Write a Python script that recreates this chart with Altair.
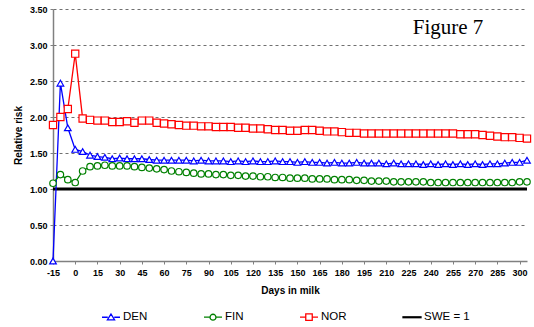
import altair as alt
import pandas as pd

days = [-15, -10, -5, 0, 5, 10, 15, 20, 25, 30,
        35, 40, 45, 50, 55, 60, 65, 70, 75, 80,
        85, 90, 95, 100, 105, 110, 115, 120, 125, 130,
        135, 140, 145, 150, 155, 160, 165, 170, 175, 180,
        185, 190, 195, 200, 205, 210, 215, 220, 225, 230,
        235, 240, 245, 250, 255, 260, 265, 270, 275, 280,
        285, 290, 295, 300, 305]

den = [0.00, 2.47, 1.85, 1.55, 1.52, 1.47, 1.45, 1.44, 1.42, 1.43,
       1.42, 1.42, 1.42, 1.41, 1.40, 1.40, 1.40, 1.40, 1.40, 1.39,
       1.40, 1.39, 1.39, 1.39, 1.38, 1.39, 1.38, 1.39, 1.38, 1.38,
       1.39, 1.38, 1.38, 1.37, 1.38, 1.37, 1.37, 1.36, 1.37, 1.36,
       1.36, 1.37, 1.36, 1.36, 1.36, 1.35, 1.36, 1.35, 1.35, 1.35,
       1.34, 1.35, 1.34, 1.35, 1.34, 1.35, 1.34, 1.35, 1.34, 1.35,
       1.35, 1.36, 1.37, 1.37, 1.40]

fin = [1.08, 1.20, 1.13, 1.09, 1.25, 1.31, 1.32, 1.33, 1.32, 1.32,
       1.32, 1.31, 1.30, 1.29, 1.28, 1.27, 1.25, 1.24, 1.23, 1.22,
       1.21, 1.21, 1.20, 1.20, 1.19, 1.19, 1.18, 1.18, 1.17, 1.17,
       1.16, 1.16, 1.15, 1.15, 1.15, 1.14, 1.14, 1.14, 1.13, 1.13,
       1.13, 1.12, 1.12, 1.11, 1.11, 1.11, 1.10, 1.10, 1.10, 1.10,
       1.10, 1.09, 1.09, 1.09, 1.09, 1.09, 1.09, 1.09, 1.09, 1.09,
       1.09, 1.09, 1.09, 1.10, 1.10]

nor = [1.89, 2.00, 2.11, 2.88, 1.98, 1.96, 1.95, 1.95, 1.93, 1.93,
       1.94, 1.92, 1.95, 1.95, 1.92, 1.91, 1.90, 1.89, 1.88, 1.88,
       1.87, 1.87, 1.86, 1.86, 1.86, 1.85, 1.85, 1.84, 1.84, 1.83,
       1.82, 1.82, 1.81, 1.81, 1.82, 1.82, 1.81, 1.80, 1.80, 1.79,
       1.78, 1.78, 1.77, 1.77, 1.77, 1.77, 1.77, 1.77, 1.77, 1.77,
       1.77, 1.77, 1.77, 1.77, 1.77, 1.76, 1.76, 1.76, 1.75, 1.74,
       1.73, 1.72, 1.72, 1.71, 1.70]

swe = [1.0] * len(days)

series_names = ["DEN", "FIN", "NOR", "SWE = 1"]
x_ticks = [-15, 0, 15, 30, 45, 60, 75, 90, 105, 120, 135, 150, 165, 180,
           195, 210, 225, 240, 255, 270, 285, 300]
y_ticks = [0, 0.5, 1.0, 1.5, 2.0, 2.5, 3.0, 3.5]
figure_label = ["Figure 7"]
x_title = "Days in milk"
y_title = "Relative risk"

# styles
colors = {"DEN": "#0000FF", "FIN": "#008000", "NOR": "#FF0000", "SWE = 1": "#000000"}
shapes = {"DEN": "triangle-up", "FIN": "circle", "NOR": "square"}
sizes = {"DEN": 44, "FIN": 42, "NOR": 52}
legend_paths = [
    "M-1,0H-0.36M0.36,0H1M0,-0.36L0.4,0.3L-0.4,0.3Z",
    "M-1,0H-0.33M0.33,0H1M0.33,0A0.33,0.33 0 1,1 -0.33,0A0.33,0.33 0 1,1 0.33,0Z",
    "M-1,0H-0.36M0.36,0H1M-0.36,-0.36H0.36V0.36H-0.36Z",
    "M-1,-0.05H1V0.05H-1Z",
]

FONT = "Liberation Sans"

df = pd.DataFrame({"day": days, "DEN": den, "FIN": fin, "NOR": nor, "SWE = 1": swe})
long = df.melt("day", var_name="series", value_name="value")

x_enc = alt.X(
    "day:Q",
    scale=alt.Scale(domain=[-15, 305], nice=False, zero=False),
    axis=alt.Axis(
        values=x_ticks, title=x_title, grid=False, labelFont=FONT, labelFontSize=9,
        labelExpr="'' + datum.value",
        labelFontWeight="bold", labelColor="black", labelPadding=4, labelFlush=False,
        labelOverlap=False, tickSize=3, tickColor="#808080", domainColor="#808080",
        domainWidth=1.5, titleFont=FONT, titleFontSize=10, titleFontWeight="bold",
        titleColor="black", titlePadding=8,
    ),
)
y_enc = alt.Y(
    "value:Q",
    scale=alt.Scale(domain=[0, 3.5], nice=False),
    axis=alt.Axis(
        values=y_ticks, format=".2f", title=y_title, grid=True, gridDash=[3, 3],
        gridColor="#707070", gridWidth=1, labelFont=FONT, labelFontSize=9,
        labelFontWeight="bold", labelColor="black", labelPadding=3, tickSize=3,
        tickColor="#808080", domainColor="#808080", domainWidth=1.5, titleFont=FONT,
        titleFontSize=10, titleFontWeight="bold", titleColor="black", titlePadding=6,
    ),
)

base = alt.Chart(long)
layers = []
for s in ["DEN", "FIN", "NOR"]:
    sub = base.transform_filter(alt.datum.series == s)
    layers.append(sub.mark_line(color=colors[s], strokeWidth=1.3).encode(x=x_enc, y=y_enc))
    layers.append(
        sub.mark_point(
            shape=shapes[s], size=sizes[s], filled=True, fill="white",
            stroke=colors[s], strokeWidth=1.2, opacity=1,
        ).encode(x=x_enc, y=y_enc)
    )

swe_layer = base.transform_filter(alt.datum.series == "SWE = 1").mark_line(
    color="black", strokeWidth=3
).encode(x=x_enc, y=y_enc)

leg = alt.Legend(
    title=None, orient="none", legendX=48, legendY=298, direction="horizontal",
    columns=4, columnPadding=53, symbolSize=324, symbolStrokeWidth=1.3,
    labelFont=FONT, labelFontSize=11.5, labelColor="black", labelOffset=2,
    padding=0, symbolOpacity=1,
)
legend_layer = base.transform_filter("false").mark_point(
    filled=False, strokeWidth=1.3, opacity=1
).encode(
    x=x_enc, y=y_enc,
    color=alt.Color("series:N", scale=alt.Scale(domain=series_names,
                    range=[colors[s] for s in series_names]), legend=leg),
    shape=alt.Shape("series:N", scale=alt.Scale(domain=series_names, range=legend_paths),
                    legend=leg),
)

text_layer = alt.Chart(pd.DataFrame({"t": figure_label})).mark_text(
    font="Liberation Serif", fontSize=21, align="center", baseline="alphabetic", color="black"
).encode(x=alt.value(395), y=alt.value(25), text="t:N")

chart = alt.layer(swe_layer, *layers, legend_layer, text_layer).properties(
    width=474, height=252,
    autosize=alt.AutoSizeParams(type="none"),
    padding={"left": 53, "top": 9, "right": 7, "bottom": 66},
    background="white",
).configure_view(stroke=None)

chart.save("out.html", embed_options={"renderer": "svg", "actions": False})
